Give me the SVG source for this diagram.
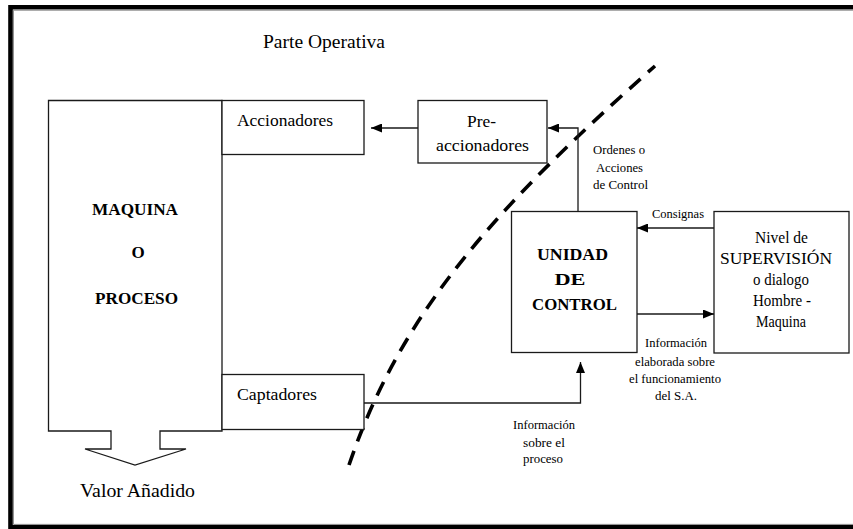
<svg xmlns="http://www.w3.org/2000/svg" width="853" height="529" viewBox="0 0 853 529">
<defs>
<marker id="arr" markerUnits="userSpaceOnUse" markerWidth="11" markerHeight="9" refX="11" refY="4.5" orient="auto">
<path d="M0,0 L11,4.5 L0,9 z" fill="#000"/>
</marker>
<style>
.box{fill:#fff;stroke:#1a1a1a;stroke-width:1.3}
.ln{fill:none;stroke:#1a1a1a;stroke-width:1.3}
text{font-family:'Liberation Serif','Times New Roman',serif;fill:#000}
.big{font-size:19px}
.mid{font-size:17.5px}
.bold{font-size:17px;font-weight:bold}
.sm{font-size:12px}
</style>
</defs>
<rect width="853" height="529" fill="#fff"/>
<g id="frame">
<path d="M856,7.3 H10.5 V527.3 H856" fill="none" stroke="#000" stroke-width="4.6"/>
<path d="M856,10.2 H13.4 V524.4 H856" fill="none" stroke="#888" stroke-width="1"/>
</g>
<g id="parte-operativa">
<text class="big" x="263" y="48" textLength="122" lengthAdjust="spacingAndGlyphs">Parte Operativa</text>
</g>
<g id="dashed-boundary">
<path d="M349,465 C401.5,310 499,204 655,66" fill="none" stroke="#000" stroke-width="3.6" stroke-dasharray="15 10"/>
</g>
<g id="maquina">
<path class="ln" d="M48.5,100.5 H222 V431 H160 V449 H186 L135,465 L85,449 H111 V431 H48.5 Z" fill="#fff"/>
<text class="bold" x="92" y="215" textLength="86" lengthAdjust="spacingAndGlyphs">MAQUINA</text>
<text class="bold" x="138" y="258" text-anchor="middle">O</text>
<text class="bold" x="95" y="304" textLength="83" lengthAdjust="spacingAndGlyphs">PROCESO</text>
</g>
<g id="valor">
<text class="big" x="80" y="497" textLength="115" lengthAdjust="spacingAndGlyphs">Valor Añadido</text>
</g>
<g id="accionadores">
<rect class="box" x="222" y="100.5" width="142" height="54"/>
<text class="mid" x="237" y="126" textLength="96" lengthAdjust="spacingAndGlyphs">Accionadores</text>
</g>
<g id="captadores">
<rect class="box" x="222" y="374.5" width="142" height="55"/>
<text class="mid" x="237" y="400" textLength="80" lengthAdjust="spacingAndGlyphs">Captadores</text>
</g>
<g id="preaccionadores">
<rect class="box" x="418" y="100.5" width="129" height="62.5"/>
<text class="mid" x="481.5" y="127" text-anchor="middle" textLength="29" lengthAdjust="spacingAndGlyphs">Pre-</text>
<text class="mid" x="482.5" y="151" text-anchor="middle" textLength="93" lengthAdjust="spacingAndGlyphs">accionadores</text>
</g>
<g id="unidad">
<rect class="box" x="511.5" y="211.5" width="125.5" height="141"/>
<text class="bold" x="572.5" y="260" text-anchor="middle" textLength="71" lengthAdjust="spacingAndGlyphs">UNIDAD</text>
<text class="bold" x="570" y="285" text-anchor="middle" textLength="31" lengthAdjust="spacingAndGlyphs">DE</text>
<text class="bold" x="574.5" y="310" text-anchor="middle" textLength="85" lengthAdjust="spacingAndGlyphs">CONTROL</text>
</g>
<g id="supervision">
<rect class="box" x="714" y="211.5" width="135" height="141.5"/>
<text class="mid" x="781.5" y="243" text-anchor="middle" textLength="53" lengthAdjust="spacingAndGlyphs">Nivel de</text>
<text class="mid" x="776" y="264" text-anchor="middle" textLength="112" lengthAdjust="spacingAndGlyphs">SUPERVISIÓN</text>
<text class="mid" x="781" y="285" text-anchor="middle" textLength="56" lengthAdjust="spacingAndGlyphs">o dialogo</text>
<text class="mid" x="782" y="306" text-anchor="middle" textLength="58" lengthAdjust="spacingAndGlyphs">Hombre -</text>
<text class="mid" x="781" y="327" text-anchor="middle" textLength="50" lengthAdjust="spacingAndGlyphs">Maquina</text>
</g>
<g id="connectors">
<path class="ln" d="M418,128 H371" marker-end="url(#arr)"/>
<path class="ln" d="M578,211.5 V128 H548" marker-end="url(#arr)"/>
<path class="ln" d="M714,228 H637" marker-end="url(#arr)"/>
<path class="ln" d="M637,314 H714" marker-end="url(#arr)"/>
<path class="ln" d="M364,403 H580.5 V362" marker-end="url(#arr)"/>
</g>
<g id="labels">
<text class="sm" x="619" y="154" text-anchor="middle" textLength="52" lengthAdjust="spacingAndGlyphs">Ordenes o</text>
<text class="sm" x="619.5" y="172" text-anchor="middle" textLength="47" lengthAdjust="spacingAndGlyphs">Acciones</text>
<text class="sm" x="620.5" y="189" text-anchor="middle" textLength="55" lengthAdjust="spacingAndGlyphs">de Control</text>
<text class="sm" x="678" y="218" text-anchor="middle" textLength="52" lengthAdjust="spacingAndGlyphs">Consignas</text>
<text class="sm" x="676" y="347" text-anchor="middle" textLength="62" lengthAdjust="spacingAndGlyphs">Información</text>
<text class="sm" x="675" y="366" text-anchor="middle" textLength="80" lengthAdjust="spacingAndGlyphs">elaborada sobre</text>
<text class="sm" x="675" y="383" text-anchor="middle" textLength="92" lengthAdjust="spacingAndGlyphs">el funcionamiento</text>
<text class="sm" x="676" y="400" text-anchor="middle" textLength="42" lengthAdjust="spacingAndGlyphs">del S.A.</text>
<text class="sm" x="544" y="429" text-anchor="middle" textLength="62" lengthAdjust="spacingAndGlyphs">Información</text>
<text class="sm" x="544" y="447" text-anchor="middle" textLength="42" lengthAdjust="spacingAndGlyphs">sobre el</text>
<text class="sm" x="543" y="463" text-anchor="middle" textLength="40" lengthAdjust="spacingAndGlyphs">proceso</text>
</g>
</svg>
